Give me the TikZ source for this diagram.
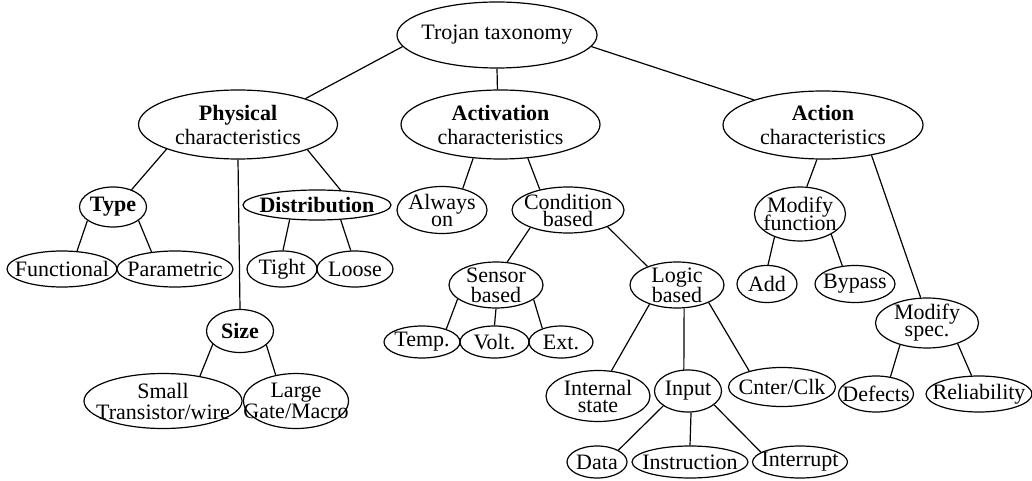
\documentclass[tikz,border=0pt]{standalone}
\usepackage{fontspec}
\setmainfont{Liberation Serif}
\usetikzlibrary{shapes.geometric}
\newcommand\ndfont{\fontsize{22}{17}\selectfont\setlength\lineskiplimit{-100pt}\setlength\lineskip{0pt}}
% \nd{name}{x,y}{width}{height}{text}
\newcommand\nd[5]{%
  \node[ell,minimum width=#3pt,minimum height=#4pt] (#1) at (#2) {};
  \node[txt] (#1-t) at (#1) {#5};}
\begin{document}
\begin{tikzpicture}[x=1pt,y=-1pt,
  ell/.style={ellipse,draw,line width=1.2pt,inner sep=0pt},
  txt/.style={inner sep=0pt,align=center,font=\ndfont},
  edge/.style={line width=1.2pt}]
\useasboundingbox (0,0) rectangle (1032,481);
% level 0
\nd{root}{497,35}{200}{66}{Trojan taxonomy}
% level 1
\nd{phys}{238,124.5}{199}{69}{\textbf{Physical}\\[7pt]characteristics}
\nd{act}{500.5,124.5}{199}{69}{\textbf{Activation}\\[7pt]characteristics}
\nd{action}{823,125}{200}{68}{\textbf{Action}\\[7pt]characteristics}
% physical subtree
\nd{type}{113,207}{67}{40}{\textbf{Type}}
\nd{dist}{317,205}{148}{30}{\textbf{Distribution}}
\nd{functional}{62,269}{110}{36}{Functional}
\nd{parametric}{175,269}{116}{36}{Parametric}
\nd{tight}{282,269}{70}{36}{Tight}
\nd{loose}{355,269}{76}{36}{Loose}
\nd{size}{240,331}{67}{43}{\textbf{Size}}
\nd{small}{163,401}{158}{55}{Small\\[4pt]Transistor/wire}
\nd{large}{296,401}{105}{55}{Large\\[4pt]Gate/Macro}
% activation subtree
\nd{always}{442,210}{90}{47}{Always\\on}
\nd{cond}{568,210}{112}{46}{Condition\\based}
\nd{sensor}{496,285}{94}{46}{Sensor\\[3pt]based}
\nd{logic}{677,285}{94}{46}{Logic\\[3pt]based}
\nd{temp}{422,342}{76}{32}{Temp.}
\nd{volt}{494.5,342}{69}{32}{Volt.}
\nd{ext}{561,342}{64}{32}{Ext.}
\nd{internal}{598,396}{104}{51}{Internal\\state}
\nd{input}{688,391}{67}{42}{Input}
\nd{cnter}{782,387}{107}{39}{Cnter/Clk}
\nd{data}{597,462}{60}{32}{Data}
\nd{instruction}{690,462}{116}{32}{Instruction}
\nd{interrupt}{800,462}{95}{32}{Interrupt}
% action subtree
\nd{modfunc}{800,214}{91}{54}{Modify\\[1pt]function}
\nd{add}{767,284}{60}{37}{Add}
\nd{bypass}{855,284}{80}{37}{Bypass}
\nd{modspec}{927,323}{103}{50}{Modify\\spec.}
\nd{defects}{876,394}{75}{36}{Defects}
\nd{reliability}{979,394}{106}{36}{Reliability}
% edges
\draw[edge] (root.187) -- (phys.21);
\draw[edge] (root.270) -- (act.95);
\draw[edge] (root.353) -- (action.160);
\draw[edge] (phys.199) -- (type.43);
\draw[edge] (phys.270) -- (size.90);
\draw[edge] (phys.340) -- (dist.32);
\draw[edge] (type.208) -- (functional.50);
\draw[edge] (type.332) -- (parametric.144);
\draw[edge] (dist.208) -- (tight.87);
\draw[edge] (dist.328) -- (loose.103);
\draw[edge] (size.206) -- (small.34);
\draw[edge] (size.332) -- (large.128);
\draw[edge] (act.231) -- (always.46);
\draw[edge] (act.309) -- (cond.144);
\draw[edge] (cond.205) -- (sensor.64);
\draw[edge] (cond.337) -- (logic.148);
\draw[edge] (sensor.200) -- (temp.28);
\draw[edge] (sensor.270) -- (volt.90);
\draw[edge] (sensor.339) -- (ext.144);
\draw[edge] (logic.215) -- (internal.62);
\draw[edge] (logic.287) -- (input.101);
\draw[edge] (logic.331) -- (cnter.154);
\draw[edge] (input.211) -- (data.29);
\draw[edge] (input.278) -- (instruction.90);
\draw[edge] (input.332) -- (interrupt.166);
\draw[edge] (action.260) -- (modfunc.76);
\draw[edge] (action.328) -- (modspec.104);
\draw[edge] (modfunc.222) -- (add.87);
\draw[edge] (modfunc.327) -- (bypass.125);
\draw[edge] (modspec.219) -- (defects.50);
\draw[edge] (modspec.326) -- (reliability.112);
\end{tikzpicture}
\end{document}
